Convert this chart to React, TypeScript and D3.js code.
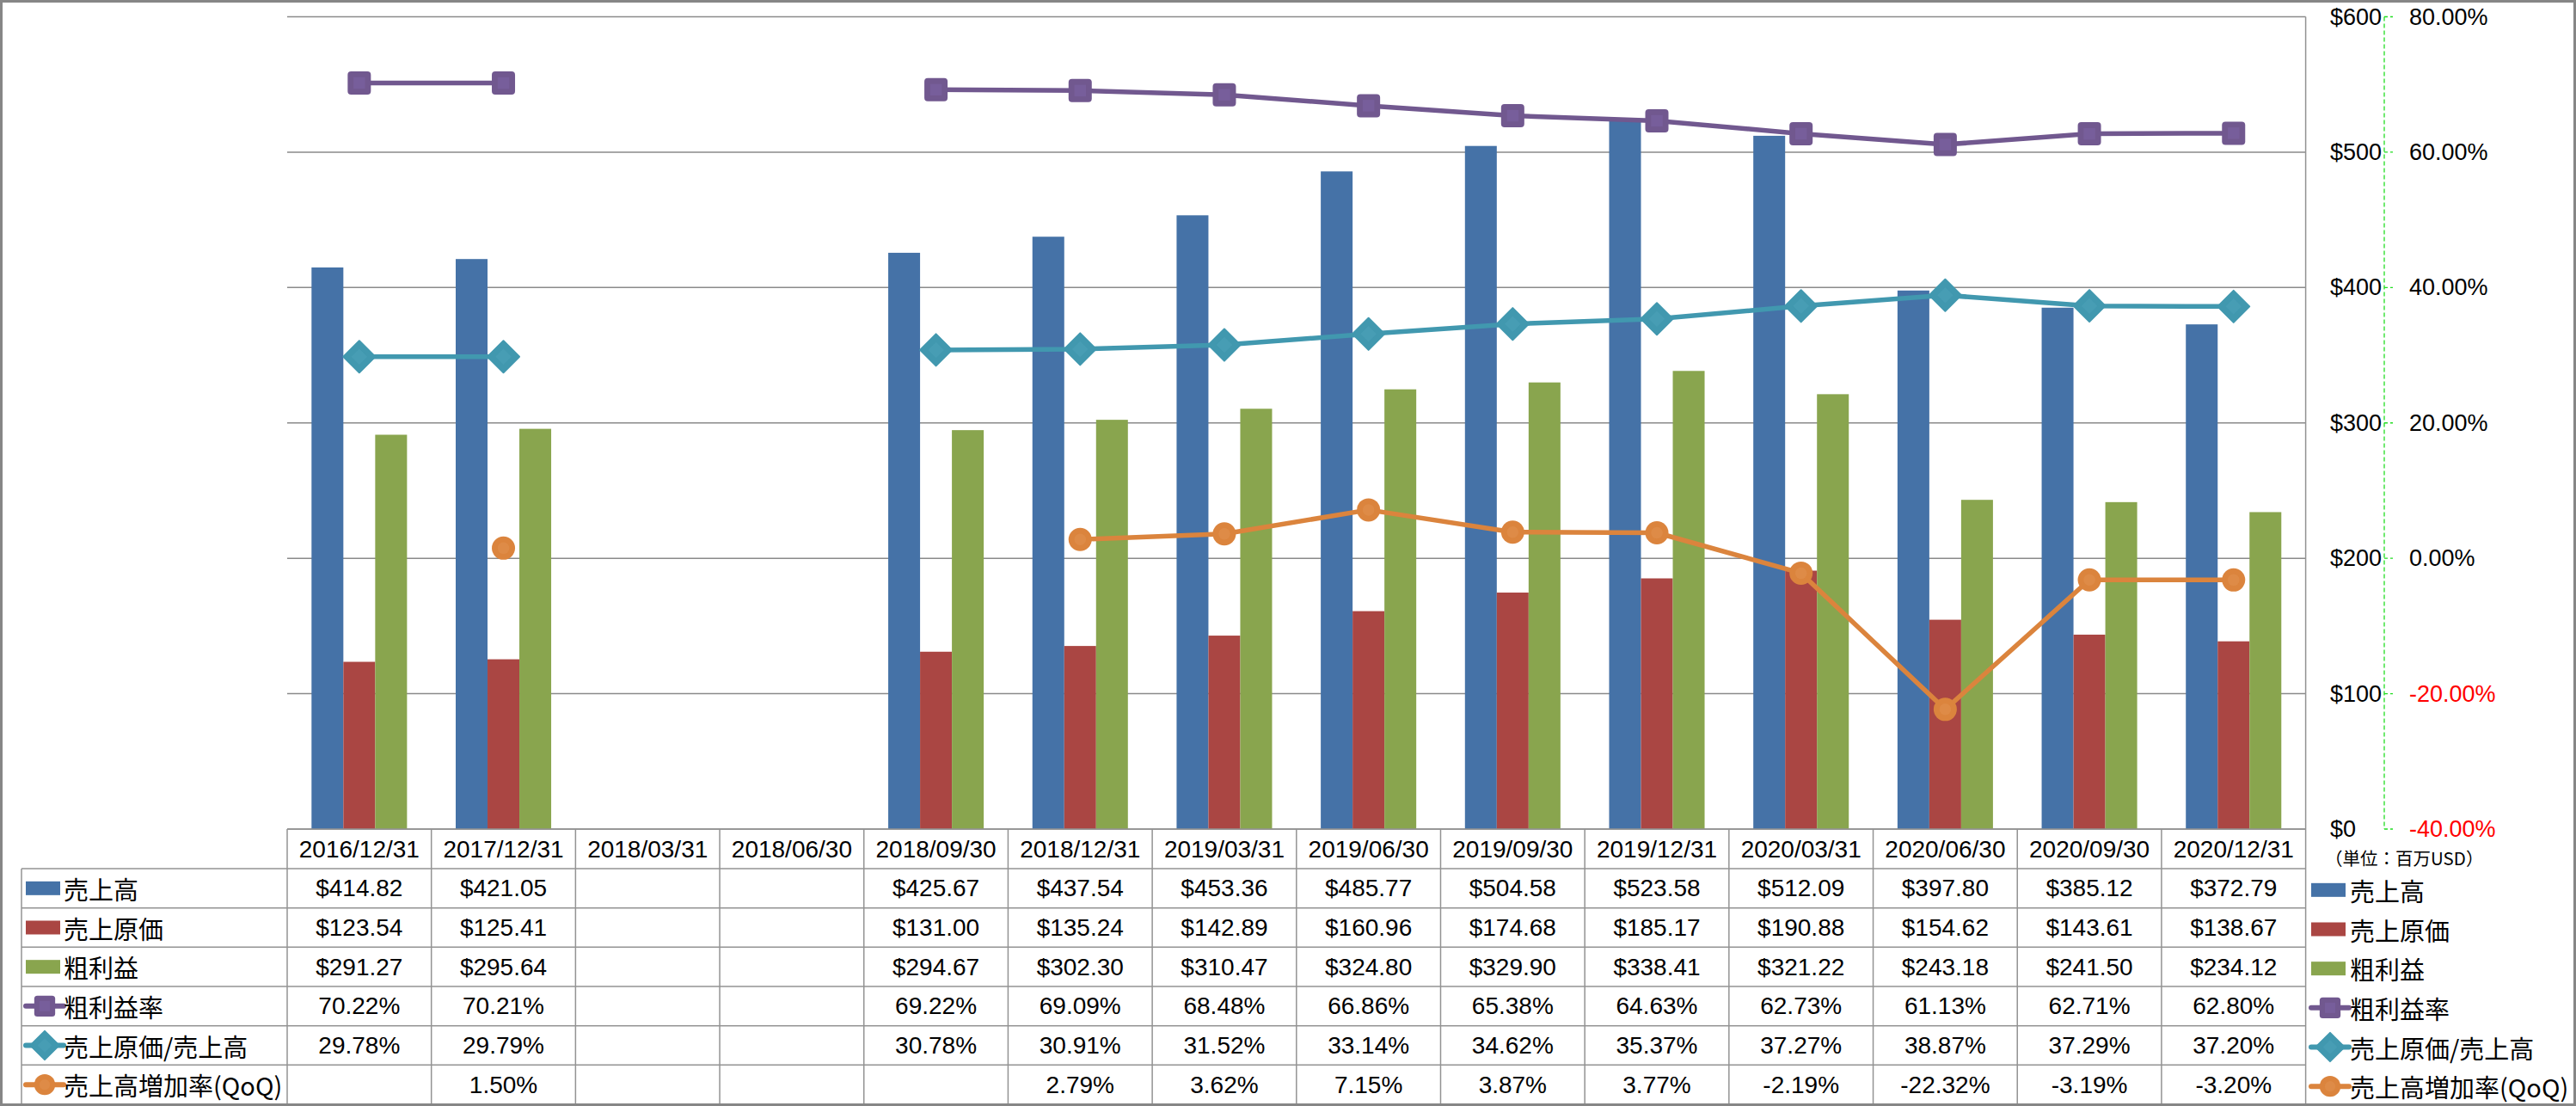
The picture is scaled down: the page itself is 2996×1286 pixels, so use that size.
import React from "react";
import * as d3 from "d3";

const categories = ["2016/12/31","2017/12/31","2018/03/31","2018/06/30","2018/09/30","2018/12/31","2019/03/31","2019/06/30","2019/09/30","2019/12/31","2020/03/31","2020/06/30","2020/09/30","2020/12/31"];
const revenue: (number|null)[] = [414.82,421.05,null,null,425.67,437.54,453.36,485.77,504.58,523.58,512.09,397.80,385.12,372.79];
const cogs: (number|null)[] = [123.54,125.41,null,null,131.00,135.24,142.89,160.96,174.68,185.17,190.88,154.62,143.61,138.67];
const grossProfit: (number|null)[] = [291.27,295.64,null,null,294.67,302.30,310.47,324.80,329.90,338.41,321.22,243.18,241.50,234.12];
const grossMargin: (number|null)[] = [70.22,70.21,null,null,69.22,69.09,68.48,66.86,65.38,64.63,62.73,61.13,62.71,62.80];
const cogsRatio: (number|null)[] = [29.78,29.79,null,null,30.78,30.91,31.52,33.14,34.62,35.37,37.27,38.87,37.29,37.20];
const qoqGrowth: (number|null)[] = [null,1.50,null,null,null,2.79,3.62,7.15,3.87,3.77,-2.19,-22.32,-3.19,-3.20];

const seriesNames = ["売上高","売上原価","粗利益","粗利益率","売上原価/売上高","売上高増加率(QoQ)"];
const leftTicks = [0,100,200,300,400,500,600];
const rightTicks = [-40,-20,0,20,40,60,80];
const unitLabel = "（単位：百万USD）";

const C = { blue:"#4572A7", red:"#AA4643", green:"#89A54E", purple:"#71588F", cyan:"#4198AF", orange:"#DB843D" };
const W = 2996, H = 1286;
const plotL = 334, plotR = 2681.6, plotT = 19.5, plotB = 964;
const tableL = 25, rowH = (1284 - 1010) / 6, headerTop = 964, firstRow = 1010;
const valFont = "'Liberation Sans', Arial, sans-serif";
const cjkFont = "'Noto Sans CJK JP', 'Noto Sans', sans-serif";
const gridCol = "#8a8a8a";
const tableCol = "#939393";

function Marker({ kind, x, y, s = 1 }: { kind: string; x: number; y: number; s?: number }) {
  if (kind === "square") {
    const a = 27 * s;
    return (
      <g>
        <rect x={x - a / 2} y={y - a / 2} width={a} height={a} rx={4 * s} fill={C.purple} />
        <rect x={x - a / 4} y={y - a / 4} width={a / 2} height={a / 2} fill="#7a61a0" opacity={0.7} />
      </g>
    );
  }
  if (kind === "diamond") {
    const r = 18.5 * s;
    return (
      <g>
        <path d={`M${x - r},${y}L${x},${y - r}L${x + r},${y}L${x},${y + r}Z`} fill={C.cyan} stroke={C.cyan} strokeWidth={2} strokeLinejoin="round" />
        <path d={`M${x - r / 2},${y}L${x},${y - r / 2}L${x + r / 2},${y}L${x},${y + r / 2}Z`} fill="#4aa0b6" opacity={0.7} />
      </g>
    );
  }
  const r = 13.5 * s;
  return (
    <g>
      <circle cx={x} cy={y} r={r} fill={C.orange} />
      <circle cx={x} cy={y} r={r / 2} fill="#e08e4c" opacity={0.7} />
    </g>
  );
}

export default function App() {
  const x0 = d3.scaleBand<string>().domain(categories).range([plotL, plotR]).paddingInner(0).paddingOuter(0);
  const x1 = d3.scaleBand<string>().domain(["rev","cogs","gp"]).range([0, x0.bandwidth()]).paddingInner(0).paddingOuter(0.765);
  const y = d3.scaleLinear().domain([0, 600]).range([plotB, plotT]);
  const y2 = d3.scaleLinear().domain([-40, 80]).range([plotB, plotT]);
  const cx = (c: string) => (x0(c) as number) + x0.bandwidth() / 2;

  const barSeries = [
    { key: "rev", data: revenue, color: C.blue },
    { key: "cogs", data: cogs, color: C.red },
    { key: "gp", data: grossProfit, color: C.green },
  ];
  const lineSeries = [
    { data: grossMargin, color: C.purple, kind: "square" },
    { data: cogsRatio, color: C.cyan, kind: "diamond" },
    { data: qoqGrowth, color: C.orange, kind: "circle" },
  ];
  const lineGen = d3.line<number | null>()
    .defined((d) => d !== null)
    .x((_, i) => cx(categories[i]))
    .y((d) => y2(d as number));

  const tableRows: { data: (number|null)[]; fmt: (v: number) => string; legend: string; color: string; kind?: string }[] = [
    { data: revenue, fmt: (v) => `$${v.toFixed(2)}`, legend: "bar", color: C.blue },
    { data: cogs, fmt: (v) => `$${v.toFixed(2)}`, legend: "bar", color: C.red },
    { data: grossProfit, fmt: (v) => `$${v.toFixed(2)}`, legend: "bar", color: C.green },
    { data: grossMargin, fmt: (v) => `${v.toFixed(2)}%`, legend: "line", color: C.purple, kind: "square" },
    { data: cogsRatio, fmt: (v) => `${v.toFixed(2)}%`, legend: "line", color: C.cyan, kind: "diamond" },
    { data: qoqGrowth, fmt: (v) => `${v.toFixed(2)}%`, legend: "line", color: C.orange, kind: "circle" },
  ];

  const legendIcon = (row: typeof tableRows[number], xL: number, yc: number, sw: number) => {
    if (row.legend === "bar") {
      return <rect x={xL} y={yc - 8} width={sw} height={16} fill={row.color} />;
    }
    return (
      <g>
        <line x1={xL} x2={xL + sw + 4} y1={yc} y2={yc} stroke={row.color} strokeWidth={6} strokeLinecap="round" />
        <Marker kind={row.kind as string} x={xL + (sw + 4) / 2} y={yc} s={0.9} />
      </g>
    );
  };

  const axisX = 2773;

  return (
    <svg width={W} height={H} style={{ position: "absolute", left: 0, top: 0, background: "#fff" }}>
      <rect x={0} y={0} width={W} height={H} fill="#fff" />
      {/* gridlines */}
      {leftTicks.map((t) => (
        <line key={"g" + t} x1={plotL} x2={plotR} y1={y(t)} y2={y(t)} stroke={gridCol} strokeWidth={1.5} />
      ))}
      <line x1={plotR} x2={plotR} y1={plotT} y2={1284} stroke={tableCol} strokeWidth={1.5} />

      {/* bars */}
      {barSeries.map((s) =>
        categories.map((c, i) => {
          const v = s.data[i];
          if (v === null) return null;
          return (
            <rect key={s.key + c} x={(x0(c) as number) + (x1(s.key) as number)} y={y(v)} width={x1.bandwidth()} height={plotB - y(v)} fill={s.color} />
          );
        })
      )}

      {/* lines */}
      {lineSeries.map((s, k) => (
        <g key={"l" + k}>
          <path d={lineGen(s.data) || ""} fill="none" stroke={s.color} strokeWidth={5.5} strokeLinejoin="round" />
          {s.data.map((v, i) => (v === null ? null : <Marker key={i} kind={s.kind} x={cx(categories[i])} y={y2(v)} />))}
        </g>
      ))}

      {/* right axis */}
      <line x1={axisX} x2={axisX} y1={plotT} y2={plotB} stroke="#22dd22" strokeWidth={1.3} strokeDasharray="5,3" />
      {leftTicks.map((t) => (
        <g key={"a" + t}>
          <line x1={axisX} x2={axisX + 10} y1={y(t)} y2={y(t)} stroke="#22dd22" strokeWidth={1.3} strokeDasharray="4,3" />
          <text x={2710} y={y(t)} dominantBaseline="central" fontFamily={valFont} fontSize={27} fill="#000">{"$" + t}</text>
        </g>
      ))}
      {rightTicks.map((t) => (
        <text key={"r" + t} x={2802} y={y2(t)} dominantBaseline="central" fontFamily={valFont} fontSize={27} fill={t < 0 ? "#ff0000" : "#000"}>
          {t.toFixed(2) + "%"}
        </text>
      ))}
      <text x={2704} y={997} dominantBaseline="central" fontFamily={cjkFont} fontSize={20.5} fill="#000">{unitLabel}</text>

      {/* table */}
      <line x1={plotL} x2={plotR} y1={headerTop} y2={headerTop} stroke={tableCol} strokeWidth={1.5} />
      {tableRows.map((_, r) => (
        <line key={"h" + r} x1={tableL} x2={plotR} y1={firstRow + r * rowH} y2={firstRow + r * rowH} stroke={tableCol} strokeWidth={1.5} />
      ))}
      <line x1={tableL} x2={tableL} y1={firstRow} y2={1284} stroke={tableCol} strokeWidth={1.5} />
      {categories.map((c) => (
        <line key={"v" + c} x1={x0(c)} x2={x0(c)} y1={headerTop} y2={1284} stroke={tableCol} strokeWidth={1.5} />
      ))}
      {categories.map((c) => (
        <text key={"c" + c} x={cx(c)} y={headerTop + 23} textAnchor="middle" dominantBaseline="central" fontFamily={valFont} fontSize={28} fill="#000">{c}</text>
      ))}
      {tableRows.map((row, r) => {
        const yc = firstRow + r * rowH + rowH / 2;
        return (
          <g key={"row" + r}>
            {legendIcon(row, 30, yc, 40)}
            <text x={74} y={yc} dominantBaseline="central" fontFamily={cjkFont} fontSize={29} fill="#000">{seriesNames[r]}</text>
            {row.data.map((v, i) =>
              v === null ? null : (
                <text key={i} x={cx(categories[i])} y={yc} textAnchor="middle" dominantBaseline="central" fontFamily={valFont} fontSize={28} fill="#000">{row.fmt(v)}</text>
              )
            )}
            {legendIcon(row, 2688, yc + 2, 40)}
            <text x={2733} y={yc + 2} dominantBaseline="central" fontFamily={cjkFont} fontSize={29} fill="#000">{seriesNames[r]}</text>
          </g>
        );
      })}

      {/* outer border */}
      <rect x={1.5} y={1.5} width={W - 3} height={H - 3} fill="none" stroke="#868686" strokeWidth={3} />
    </svg>
  );
}
